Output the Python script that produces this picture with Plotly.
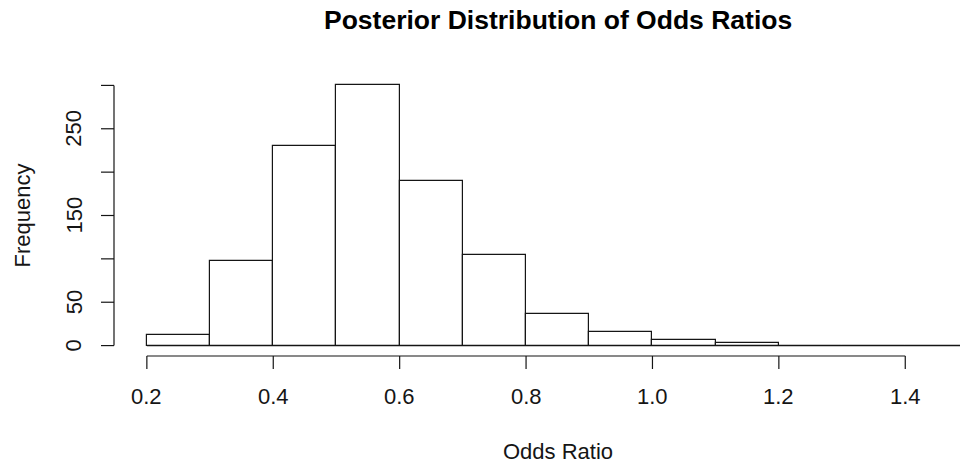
import plotly.graph_objects as go

# Histogram of posterior odds ratios: bin edges and counts per bin
bin_edges = [0.2, 0.3, 0.4, 0.5, 0.6, 0.7, 0.8, 0.9, 1.0, 1.1, 1.2, 1.3, 1.4, 1.5]
bin_counts = [12, 98, 230, 300, 190, 104, 36, 16, 7, 3, 0, 0, 0]

# Axis ticks and labels
x_ticks = [0.2, 0.4, 0.6, 0.8, 1.0, 1.2, 1.4]
x_tick_labels = ["0.2", "0.4", "0.6", "0.8", "1.0", "1.2", "1.4"]
y_ticks = [0, 50, 100, 150, 200, 250, 300]
y_label_values = [0, 50, 150, 250]

title_text = "Posterior Distribution of Odds Ratios"
x_title = "Odds Ratio"
y_title = "Frequency"

FONT = "Liberation Sans, Arial, Helvetica, sans-serif"
INK = "#151515"
W, H = 960, 463
LW = 1.2

centers = [(a + b) / 2 for a, b in zip(bin_edges[:-1], bin_edges[1:])]
widths = [b - a for a, b in zip(bin_edges[:-1], bin_edges[1:])]

# padded data ranges (4% of span on each side)
x_span = bin_edges[-1] - bin_edges[0]
x_lo = bin_edges[0] - 0.04 * x_span
y_top = max(y_ticks)
y_lo, y_hi = -0.04 * y_top, 1.04 * y_top

# the plotting region runs past the right edge of the page
left_px = 114
px_per_unit = 632.0
x_hi = x_lo + (W - left_px) / px_per_unit

fig = go.Figure()

fig.add_trace(go.Bar(
    x=centers, y=bin_counts, width=widths,
    marker=dict(color="white", line=dict(color=INK, width=LW)),
    hoverinfo="x+y", showlegend=False,
))

# zero-height bins still show as a line along the base
fig.add_trace(go.Scatter(
    x=[bin_edges[0], bin_edges[-1]], y=[0, 0], mode="lines",
    line=dict(color=INK, width=LW), hoverinfo="skip", showlegend=False,
))

shapes = []
tick_len = 13
# x axis: line spans first to last tick, at the bottom of the plotting region
shapes.append(dict(type="line", xref="x", yref="paper", x0=x_ticks[0], x1=x_ticks[-1],
                   y0=0, y1=0, line=dict(color=INK, width=LW)))
for t in x_ticks:
    shapes.append(dict(type="line", xref="x", yref="paper", ysizemode="pixel", yanchor=0,
                       x0=t, x1=t, y0=0, y1=-tick_len, line=dict(color=INK, width=LW)))
# y axis along the left edge of the plotting region
shapes.append(dict(type="line", xref="paper", yref="y", x0=0, x1=0,
                   y0=y_ticks[0], y1=y_ticks[-1], line=dict(color=INK, width=LW)))
for t in y_ticks:
    shapes.append(dict(type="line", xref="paper", yref="y", xsizemode="pixel", xanchor=0,
                       x0=0, x1=-tick_len, y0=t, y1=t, line=dict(color=INK, width=LW)))

annotations = []
for t, lab in zip(x_ticks, x_tick_labels):
    annotations.append(dict(x=t, y=0, xref="x", yref="paper", text=lab, showarrow=False,
                            xanchor="center", yanchor="middle", yshift=-40,
                            font=dict(family=FONT, size=22, color=INK)))
for v in y_label_values:
    annotations.append(dict(x=0, y=v, xref="paper", yref="y", text=str(v), showarrow=False,
                            textangle=-90, xanchor="center", yanchor="middle", xshift=-40,
                            font=dict(family=FONT, size=22, color=INK)))

mid_x = (bin_edges[0] + bin_edges[-1]) / 2
annotations.append(dict(x=mid_x, y=0, xref="x", yref="paper", text=x_title, showarrow=False,
                        xanchor="center", yanchor="middle", yshift=-95,
                        font=dict(family=FONT, size=22, color=INK)))
annotations.append(dict(x=0, y=0.5, xref="paper", yref="paper", text=y_title, showarrow=False,
                        textangle=-90, xanchor="center", yanchor="middle", xshift=-92,
                        font=dict(family=FONT, size=22, color=INK)))
annotations.append(dict(x=mid_x, y=1, xref="x", yref="paper", text="<b>" + title_text + "</b>",
                        showarrow=False, xanchor="center", yanchor="middle", yshift=55,
                        font=dict(family=FONT, size=26.5, color="black")))

fig.update_layout(
    width=W, height=H,
    margin=dict(l=left_px, r=0, t=75, b=107, pad=0),
    paper_bgcolor="white", plot_bgcolor="white",
    xaxis=dict(range=[x_lo, x_hi], visible=False, showgrid=False, zeroline=False),
    yaxis=dict(range=[y_lo, y_hi], visible=False, showgrid=False, zeroline=False),
    bargap=0, shapes=shapes, annotations=annotations, showlegend=False,
)

fig.write_html("out.html")
